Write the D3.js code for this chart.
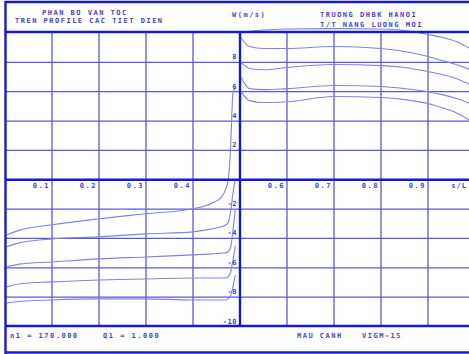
<!DOCTYPE html>
<html>
<head>
<meta charset="utf-8">
<script src="https://cdn.jsdelivr.net/npm/d3@7"></script>
<style>
  body { margin: 0; background: #fff; }
  text { font-family: "DejaVu Sans Mono", monospace; font-weight: bold; font-size: 7px; letter-spacing: 1.5px; fill: #4444cc; }
</style>
</head>
<body>
<svg id="chart" width="469" height="354"></svg>
<script>
// tick values / labels
var xTicks = [0.1, 0.2, 0.3, 0.4, 0.6, 0.7, 0.8, 0.9];
var xTickLabels = ["0.1", "0.2", "0.3", "0.4", "0.6", "0.7", "0.8", "0.9"];
var xUnitLabel = "s/L";
var yTicks = [8, 6, 4, 2, -2, -4, -6, -8, -10];

// left side (s from 0 to 0.5) - five sections
var leftS = [0.004, 0.03, 0.1, 0.2, 0.3, 0.4, 0.44, 0.46, 0.47, 0.475, 0.48, 0.485, 0.49];
var left1 = [-3.75, -3.45, -3.07, -2.66, -2.32, -1.98, -1.6, -1.2, -0.6, 0, 2.2, 5.9, 6.3];
var left2 = [-4.57, -4.3, -4.03, -3.89, -3.69, -3.55, -3.35, -3.2, -3.07, -2.9, -2.2, -0.9, 0];
var left3 = [-5.94, -5.75, -5.6, -5.39, -5.26, -5.12, -5.05, -5.0, -4.98, -4.9, -4.6, -3.5, -2.0];
var left4 = [-7.3, -7.1, -6.96, -6.83, -6.76, -6.69, -6.69, -6.69, -6.69, -6.6, -6.3, -5.5, -4.5];
var left5 = [-8.4, -8.3, -8.19, -8.12, -8.12, -8.19, -8.19, -8.19, -8.19, -8.1, -7.9, -7.3, -6.5];

// right side (s from 0.5 to 1)
var rightS = [0.5, 0.51, 0.52, 0.55, 0.6, 0.7, 0.8, 0.85, 0.9, 0.93, 0.96, 0.99];
var right1 = [10.03, 10.03, 10.1, 10.2, 10.27, 10.3, 10.27, 10.17, 9.9, 9.7, 9.42, 8.94];
var right2 = [9.76, 9.35, 9.08, 8.94, 8.94, 9.08, 8.94, 8.74, 8.4, 8.12, 7.85, 7.5];
var right3 = [8.05, 7.78, 7.58, 7.5, 7.65, 7.85, 7.78, 7.65, 7.37, 7.17, 6.9, 6.48];
var right4 = [7.1, 6.55, 6.21, 6.14, 6.21, 6.42, 6.35, 6.21, 6.0, 5.8, 5.53, 5.19];
var right5 = [6.14, 5.67, 5.39, 5.26, 5.32, 5.67, 5.6, 5.46, 5.19, 4.91, 4.57, 4.03];

var svg = d3.select("#chart");

var x = d3.scaleLinear().domain([0, 1]).range([5, 475]);
var y = d3.scaleLinear().domain([-10, 10]).range([326.5, 33]);

var axisColor = "#1a1ac8";
var gridColor = "#5a5ad8";
var curveColor = "#8282e2";

// gridlines (incl. s = 1.0, just off the right edge)
svg.append("g").selectAll("line").data(xTicks.concat([1.0])).enter().append("line")
  .attr("x1", d => x(d)).attr("x2", d => x(d))
  .attr("y1", y(10)).attr("y2", y(-10))
  .attr("stroke", gridColor).attr("stroke-width", 1.3);

svg.append("g").selectAll("line").data(yTicks.filter(d => d != -10)).enter().append("line")
  .attr("x1", x(0)).attr("x2", 469)
  .attr("y1", d => y(d)).attr("y2", d => y(d))
  .attr("stroke", gridColor).attr("stroke-width", 1.3);

// curves
var line = d3.line()
  .x(d => x(d[0]))
  .y(d => y(d[1]))
  .curve(d3.curveMonotoneX);

var curves = [];
[left1, left2, left3, left4, left5].forEach(v => curves.push(leftS.map((s, i) => [s, v[i]])));
[right1, right2, right3, right4, right5].forEach(v => curves.push(rightS.map((s, i) => [s, v[i]])));

svg.append("g").selectAll("path").data(curves).enter().append("path")
  .attr("d", line)
  .attr("fill", "none")
  .attr("stroke", curveColor)
  .attr("stroke-width", 1.1);

// frame
var frame = svg.append("g").attr("stroke", axisColor).attr("stroke-width", 2.4);
frame.append("line").attr("x1", x(0)).attr("x2", 469).attr("y1", 2).attr("y2", 2);
frame.append("line").attr("x1", x(0)).attr("x2", 469).attr("y1", y(10) - 1).attr("y2", y(10) - 1);
frame.append("line").attr("x1", x(0)).attr("x2", 469).attr("y1", y(-10) - 0.5).attr("y2", y(-10) - 0.5);
frame.append("line").attr("x1", x(0)).attr("x2", 469).attr("y1", 352.5).attr("y2", 352.5);
frame.append("line").attr("x1", x(0) + 0.5).attr("x2", x(0) + 0.5).attr("y1", 1).attr("y2", 354);

// main axes
svg.append("line").attr("x1", x(0)).attr("x2", 469).attr("y1", y(0)).attr("y2", y(0))
  .attr("stroke", axisColor).attr("stroke-width", 2.4);
svg.append("line").attr("x1", x(0.5)).attr("x2", x(0.5)).attr("y1", y(10) - 2).attr("y2", y(-10))
  .attr("stroke", axisColor).attr("stroke-width", 2.4);

// tick labels
svg.append("g").selectAll("text").data(xTicks).enter().append("text")
  .attr("x", d => x(d) - 2)
  .attr("y", y(0) + 8)
  .attr("text-anchor", "end")
  .text((d, i) => xTickLabels[i]);

svg.append("text").attr("x", 467).attr("y", y(0) + 8)
  .attr("text-anchor", "end").style("letter-spacing", "1px")
  .text(xUnitLabel);

svg.append("g").selectAll("text").data(yTicks).enter().append("text")
  .attr("x", x(0.5) - 3)
  .attr("y", d => y(d) - 3)
  .attr("text-anchor", "end")
  .style("letter-spacing", "0.5px")
  .text(d => d);

// header and footer text
svg.append("text").attr("x", 42).attr("y", 15).text("PHAN BO VAN TOC");
svg.append("text").attr("x", 15).attr("y", 22.5).text("TREN PROFILE CAC TIET DIEN");
svg.append("text").attr("x", 232).attr("y", 17).text("W(m/s)");
svg.append("text").attr("x", 320).attr("y", 17).text("TRUONG DHBK HANOI");
svg.append("text").attr("x", 320).attr("y", 27).text("T/T NANG LUONG MOI");
svg.append("text").attr("x", 10).attr("y", 337.5).text("n1 = 170.000");
svg.append("text").attr("x", 103).attr("y", 337.5).text("Q1 = 1.000");
svg.append("text").attr("x", 297).attr("y", 337.5).text("MAU CANH");
svg.append("text").attr("x", 362).attr("y", 337.5).text("VIGM-15");
</script>
</body>
</html>
